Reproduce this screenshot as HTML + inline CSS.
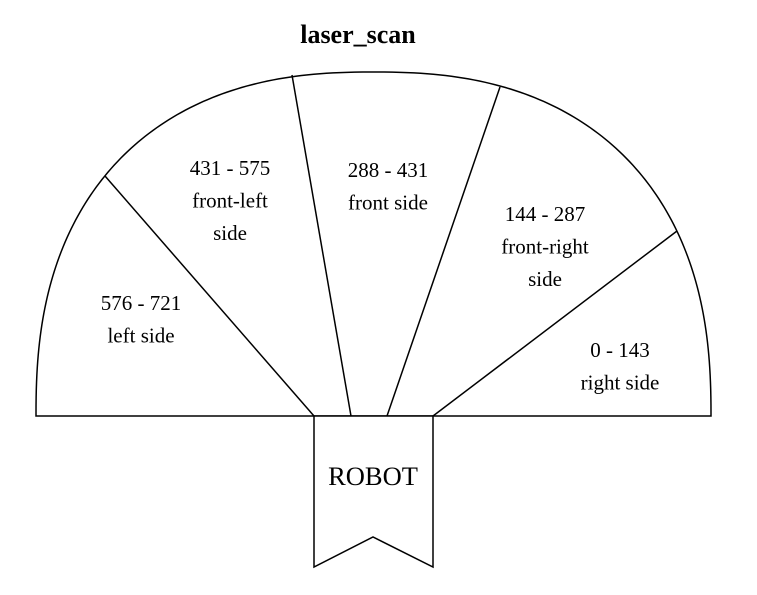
<!DOCTYPE html>
<html><head><meta charset="utf-8"><style>
html,body{margin:0;padding:0;background:#fff;}
svg{display:block;font-family:"Liberation Serif",serif;}
</style></head><body>
<svg id="chart" width="757" height="595" viewBox="0 0 757 595">
<text x="358" y="43" font-size="26" font-weight="bold" text-anchor="middle">laser_scan</text>
<path id="arc" d="" fill="none" stroke="#000" stroke-width="1.5"/>
<g id="dividers" stroke="#000" stroke-width="1.5"></g>
<g id="labels" font-size="21" text-anchor="middle"></g>
<path d="M314,416 L433,416 L433,567 L373,537 L314,567 Z" fill="#fff" stroke="#000" stroke-width="1.5"/>
<text x="373" y="485" font-size="26.5" text-anchor="middle">ROBOT</text>
</svg>
<script>
const sectorRanges = ["576 - 721", "431 - 575", "288 - 431", "144 - 287", "0 - 143"];
const sectorNames = [["left side"], ["front-left", "side"], ["front side"], ["front-right", "side"], ["right side"]];
const labelAnchors = [[141,303],[230,168],[388,170],[545,214],[620,350]];
const dividerLines = [[105,176,314,416],[292,75,351,416],[500,87,387,416],[677,231,433,416]];
const NS = "http://www.w3.org/2000/svg";
// superellipse arc
(function(){
  const cx=373.5, cy=416, rx=337.5, ry=344, n=2.4;
  let d="";
  for(let i=0;i<=200;i++){
    const t=Math.PI*(1-i/200);
    const c=Math.cos(t), s=Math.sin(t);
    const x=cx+rx*Math.sign(c)*Math.pow(Math.abs(c),2/n);
    const y=cy-ry*Math.pow(Math.abs(s),2/n);
    d+=(i?"L":"M")+x.toFixed(2)+","+y.toFixed(2);
  }
  d+="Z";
  document.getElementById('arc').setAttribute('d',d);
})();
const dg = document.getElementById('dividers');
dividerLines.forEach(function(l){
  const ln = document.createElementNS(NS,'line');
  ln.setAttribute('x1',l[0]);ln.setAttribute('y1',l[1]);ln.setAttribute('x2',l[2]);ln.setAttribute('y2',l[3]);
  
  
  dg.appendChild(ln);
});
const lg = document.getElementById('labels');
sectorRanges.forEach(function(r,i){
  const lines = [r].concat(sectorNames[i]);
  lines.forEach(function(s,j){
    const t = document.createElementNS(NS,'text');
    t.setAttribute('x',labelAnchors[i][0]);
    t.setAttribute('y',labelAnchors[i][1]+7+j*32.5);
    t.textContent = s;
    
    
    lg.appendChild(t);
  });
});
</script>
</body></html>
